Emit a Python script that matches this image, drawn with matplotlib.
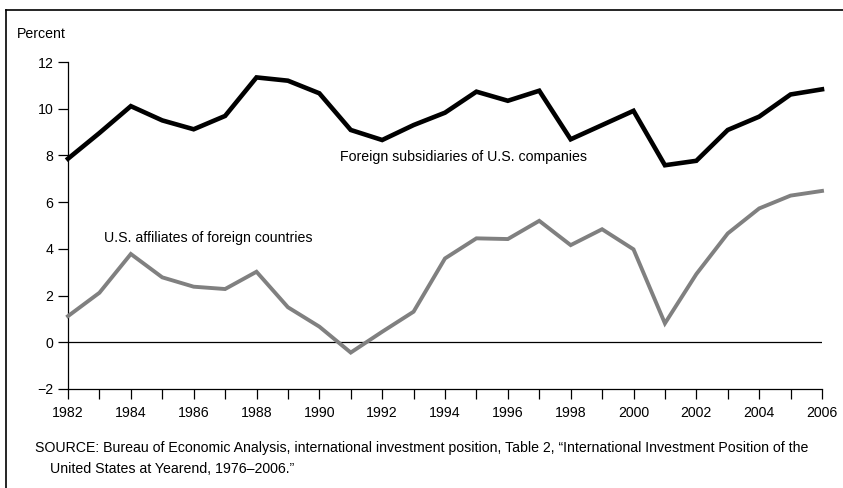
import matplotlib
matplotlib.use("Agg")
import matplotlib.pyplot as plt
from matplotlib.lines import Line2D

plt.rcParams['font.family'] = ['Liberation Sans', 'DejaVu Sans']

years = list(range(1982, 2007))
foreign_subs = [7.86, 8.96, 10.11, 9.5, 9.12, 9.69, 11.34, 11.2, 10.66, 9.09, 8.66, 9.3,
                9.83, 10.73, 10.34, 10.77, 8.69, 9.3, 9.91, 7.58, 7.77, 9.09, 9.66, 10.61, 10.83]
us_affiliates = [1.12, 2.12, 3.78, 2.78, 2.38, 2.28, 3.02, 1.5, 0.67, -0.44, 0.45, 1.31,
                 3.59, 4.45, 4.42, 5.2, 4.16, 4.84, 3.98, 0.81, 2.92, 4.66, 5.73, 6.28, 6.48]
yticks = [-2, 0, 2, 4, 6, 8, 10, 12]
yticklabels = ['\u22122', '0', '2', '4', '6', '8', '10', '12']
xticklabels = [str(y) if y % 2 == 0 else '' for y in years]

FS = 10.2
W, H = 843, 488
fig = plt.figure(figsize=(W / 100, H / 100), dpi=100)
ax = fig.add_axes([68 / W, 1 - 389 / H, (822 - 68) / W, (389 - 62) / H])

ax.plot(years, foreign_subs, color='black', lw=3.3, solid_joinstyle='miter', clip_on=False, zorder=3)
ax.plot(years, us_affiliates, color='#808080', lw=2.8, solid_joinstyle='miter', clip_on=False, zorder=3)
ax.axhline(0, color='black', lw=0.9, zorder=2)

ax.set_xlim(1982, 2006)
ax.set_ylim(-2, 12)
ax.set_yticks(yticks)
ax.set_yticklabels(yticklabels)
ax.set_xticks(years)
ax.set_xticklabels(xticklabels)
for s in ['top', 'right']:
    ax.spines[s].set_visible(False)
for s in ['left', 'bottom']:
    ax.spines[s].set_linewidth(0.9)
ax.tick_params(axis='y', direction='out', length=7, width=0.9, labelsize=FS, pad=3.5)
ax.tick_params(axis='x', direction='out', length=7, width=0.9, labelsize=FS, pad=5)

fig.text(340 / W, 1 - 157 / H, 'Foreign subsidiaries of U.S. companies', fontsize=FS, va='center', ha='left')
fig.text(104 / W, 1 - 238 / H, 'U.S. affiliates of foreign countries', fontsize=FS, va='center', ha='left')

fig.text(17 / W, 1 - 34 / H, 'Percent', fontsize=FS, va='center', ha='left')
fig.text(35 / W, 1 - 448 / H,
         'SOURCE: Bureau of Economic Analysis, international investment position, Table 2, \u201cInternational Investment Position of the',
         fontsize=FS, va='center', ha='left')
fig.text(50 / W, 1 - 469 / H, 'United States at Yearend, 1976\u20132006.\u201d', fontsize=FS, va='center', ha='left')

# outer frame (top and left)
fig.add_artist(Line2D([6 / W, 6 / W], [0, 1 - 10 / H], transform=fig.transFigure, color='black', lw=1.2))
fig.add_artist(Line2D([6 / W, 1], [1 - 10 / H, 1 - 10 / H], transform=fig.transFigure, color='black', lw=1.2))

fig.savefig('out.png', dpi=100)
